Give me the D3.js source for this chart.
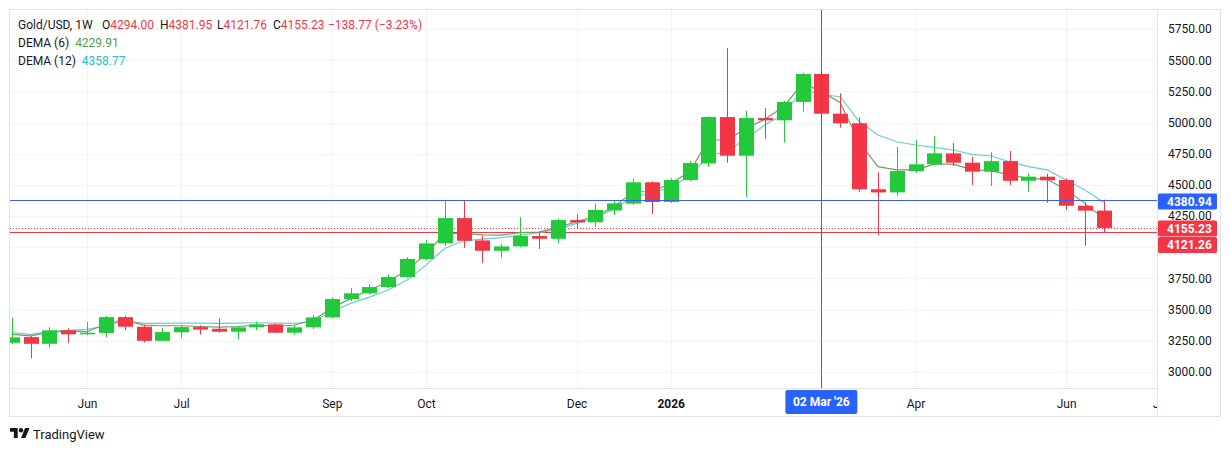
<!DOCTYPE html>
<html>
<head>
<meta charset="utf-8">
<script src="https://cdn.jsdelivr.net/npm/d3@7"></script>
<style>
  body { margin: 0; background: #fff; }
  svg text { font-family: Roboto, "Liberation Sans", sans-serif; }
</style>
</head>
<body>
<svg id="chart" width="1231" height="452"></svg>
<script>
// ── Data (weekly Gold/USD candles) ───────────────────────────
const weeks = [
  "2025-05-05","2025-05-12","2025-05-19","2025-05-26","2025-06-02","2025-06-09","2025-06-16","2025-06-23",
  "2025-06-30","2025-07-07","2025-07-14","2025-07-21","2025-07-28","2025-08-04","2025-08-11","2025-08-18",
  "2025-08-25","2025-09-01","2025-09-08","2025-09-15","2025-09-22","2025-09-29","2025-10-06","2025-10-13",
  "2025-10-20","2025-10-27","2025-11-03","2025-11-10","2025-11-17","2025-11-24","2025-12-01","2025-12-08",
  "2025-12-15","2025-12-22","2025-12-29","2026-01-05","2026-01-12","2026-01-19","2026-01-26","2026-02-02",
  "2026-02-09","2026-02-16","2026-02-23","2026-03-02","2026-03-09","2026-03-16","2026-03-23","2026-03-30",
  "2026-04-06","2026-04-13","2026-04-20","2026-04-27","2026-05-04","2026-05-11","2026-05-18","2026-05-25",
  "2026-06-01","2026-06-08","2026-06-15"
];
const open = [
  3234,3280,3226,3334,3302,3313,3440,3363,3250,3318,3360,3347,3323,3358,3382,3315,
  3358,3438,3585,3631,3681,3761,3906,4031,4234,4055,3972,4007,4090,4068,4218,4200,
  4295,4350,4521,4363,4539,4672,5044,4734,5036,5018,5165,5389,5071,4994,4465,4440,
  4611,4665,4753,4678,4606,4691,4533,4566,4539,4333,4294
];
const high = [
  3435,3290,3360,3350,3400,3450,3452,3380,3355,3376,3375,3430,3368,3403,3388,3376,
  3455,3600,3673,3705,3785,3920,4058,4375,4380,4090,4026,4240,4125,4228,4265,4352,
  4379,4547,4530,4553,4691,5050,5598,5095,5117,5175,5400,5408,5234,5042,4601,4804,
  4860,4892,4836,4726,4761,4772,4593,4590,4553,4360,4381.95
];
const low = [
  3225,3110,3195,3234,3295,3280,3335,3237,3245,3275,3300,3315,3262,3336,3312,3300,
  3345,3430,3570,3620,3672,3755,3895,4010,3995,3876,3916,4000,3986,4030,4150,4165,
  4258,4340,4267,4355,4530,4645,4678,4400,4870,4841,5087,5005,4959,4445,4098,4413,
  4598,4655,4650,4500,4491,4500,4445,4357,4299,4012,4121.76
];
const close = [
  3278,3226,3334,3302,3315,3440,3363,3250,3320,3360,3340,3323,3358,3382,3315,3358,
  3438,3585,3631,3681,3761,3906,4031,4234,4052,3972,4007,4090,4068,4218,4200,4299,
  4352,4521,4363,4539,4675,5044,4734,5036,5018,5165,5389,5071,4994,4465,4440,4611,
  4665,4753,4678,4606,4691,4533,4566,4537,4333,4294,4155.23
];
const dema6 = [
  3302,3290,3318,3330,3323,3385,3417,3376,3371,3371,3365,3360,3365,3376,3368,3375,
  3417,3510,3590,3657,3724,3817,3946,4112,4112,4100,4098,4117,4122,4160,4205,4250,
  4325,4445,4445,4512,4605,4860,4860,4953,5026,5127,5315,5250,5159,4846,4646,4620,
  4620,4667,4667,4620,4614,4580,4553,4545,4459,4352,4229.91
];
const dema12 = [
  3315,3302,3323,3334,3342,3371,3410,3390,3390,3393,3392,3390,3392,3395,3392,3390,
  3405,3485,3550,3600,3657,3737,3857,3992,4052,4065,4078,4098,4117,4144,4192,4232,
  4312,4405,4432,4485,4566,4740,4766,4873,4980,5068,5261,5225,5207,5010,4900,4846,
  4820,4801,4780,4745,4732,4686,4646,4620,4539,4459,4358.77
];

// axis ticks
const priceTicks = [3000,3250,3500,3750,4250,4500,4750,5000,5250,5500,5750]; // 4000 hidden behind tags
const gridPrices = [3000,3250,3500,3750,4000,4250,4500,4750,5000,5250,5500,5750];
const timeTickDates  = ["2025-06-02","2025-07-07","2025-09-01","2025-10-06","2025-12-01","2026-01-05","2026-04-06","2026-06-01","2026-07-06"];
const timeTickLabels = ["Jun","Jul","Sep","Oct","Dec","2026","Apr","Jun","Jul"];
const gridDates = ["2025-06-02","2025-07-07","2025-09-01","2025-10-06","2025-12-01","2026-01-05","2026-03-02","2026-04-06","2026-06-01"];

// legend values
const ohlc = [["O","4294.00"],["H","4381.95"],["L","4121.76"],["C","4155.23"]];
const change = "\u2212138.77 (\u22123.23%)";
const demaLegend = [["DEMA (6)","4229.91"],["DEMA (12)","4358.77"]];

// price markers
const crossPrice = 4380.94;
const crossDate  = "2026-03-02";
const crossLabel = "02 Mar '26";
const lastPrice  = 4155.23;
const lowMarker  = 4121.26;

// ── Layout ──────────────────────────────────────────────────
const C = {
  text: "#131722", grid: "#f0f3fa", border: "#e0e3eb",
  up: "#22c93a", down: "#f23645", blue: "#2962ff", blueLine: "#3a62e0",
  d6: "#7d9a5e", d6txt: "#4f9f4f", d12: "#6ccbd6", d12txt: "#2fb9ca"
};
const frame = { left: 9.5, top: 9.5, right: 1220.5, bottom: 416.5 };
const plotRight = 1157, plotBottom = 388;

const parse = d3.utcParse("%Y-%m-%d");
const candles = weeks.map((w, i) => ({
  date: parse(w), o: open[i], h: high[i], l: low[i], c: close[i], d6: dema6[i], d12: dema12[i]
}));

const x = d3.scaleUtc()
  .domain([candles[0].date, candles[candles.length - 1].date])
  .range([11.7, 1103.8]);
const y = d3.scaleLinear().domain([3000, 5750]).range([372, 29]);
const step = x(candles[1].date) - x(candles[0].date);
const bodyW = Math.round(step * 0.8);

const svg = d3.select("#chart");
const defs = svg.append("defs");
defs.append("clipPath").attr("id", "plotClip")
  .append("rect").attr("x", 10).attr("y", 10).attr("width", plotRight - 10).attr("height", plotBottom - 10);
// time axis clip, in the axis group's own coordinates
defs.append("clipPath").attr("id", "timeClip")
  .append("rect").attr("x", 10).attr("y", 0).attr("width", plotRight - 10).attr("height", 28);

// ── Grid ────────────────────────────────────────────────────
const grid = svg.append("g").attr("clip-path", "url(#plotClip)");
grid.selectAll(".hgrid").data(gridPrices).join("line")
  .attr("x1", 10).attr("x2", plotRight)
  .attr("y1", d => Math.round(y(d)) + 0.5).attr("y2", d => Math.round(y(d)) + 0.5)
  .attr("stroke", C.grid);
grid.selectAll(".vgrid").data(gridDates.map(parse)).join("line")
  .attr("x1", d => Math.round(x(d)) + 0.5).attr("x2", d => Math.round(x(d)) + 0.5)
  .attr("y1", 10).attr("y2", plotBottom)
  .attr("stroke", C.grid);

// ── Price lines ─────────────────────────────────────────────
const marks = svg.append("g").attr("clip-path", "url(#plotClip)");
marks.append("line")
  .attr("x1", 10).attr("x2", plotRight)
  .attr("y1", Math.round(y(lowMarker)) + 0.5).attr("y2", Math.round(y(lowMarker)) + 0.5)
  .attr("stroke", C.down);
marks.append("line")
  .attr("x1", 10).attr("x2", plotRight)
  .attr("y1", Math.round(y(lastPrice)) + 0.5).attr("y2", Math.round(y(lastPrice)) + 0.5)
  .attr("stroke", C.down).attr("stroke-dasharray", "1,2");

// ── DEMA lines ──────────────────────────────────────────────
const lineGen = key => d3.line().x(d => x(d.date)).y(d => y(d[key]));
marks.append("path").datum(candles).attr("d", lineGen("d12"))
  .attr("fill", "none").attr("stroke", C.d12).attr("stroke-width", 1.2);
marks.append("path").datum(candles).attr("d", lineGen("d6"))
  .attr("fill", "none").attr("stroke", C.d6).attr("stroke-width", 1.2);

// ── Candles ─────────────────────────────────────────────────
const cg = marks.selectAll(".candle").data(candles).join("g")
  .attr("fill", d => d.c >= d.o ? C.up : C.down)
  .attr("stroke", d => d.c >= d.o ? C.up : C.down);
cg.append("line")
  .attr("x1", d => Math.round(x(d.date)) + 0.5).attr("x2", d => Math.round(x(d.date)) + 0.5)
  .attr("y1", d => y(d.h)).attr("y2", d => y(d.l));
cg.append("rect")
  .attr("stroke", "none")
  .attr("x", d => Math.round(x(d.date)) - (bodyW - 1) / 2)
  .attr("width", bodyW)
  .attr("y", d => y(Math.max(d.o, d.c)))
  .attr("height", d => Math.max(1.5, Math.abs(y(d.o) - y(d.c))));

// crosshair
marks.append("line")
  .attr("x1", 10).attr("x2", plotRight)
  .attr("y1", Math.round(y(crossPrice)) + 0.5).attr("y2", Math.round(y(crossPrice)) + 0.5)
  .attr("stroke", C.blueLine);
marks.append("line")
  .attr("x1", Math.round(x(parse(crossDate))) + 0.5).attr("x2", Math.round(x(parse(crossDate))) + 0.5)
  .attr("y1", 10).attr("y2", plotBottom)
  .attr("stroke", C.blueLine);

// ── Frame ───────────────────────────────────────────────────
svg.append("rect")
  .attr("x", frame.left).attr("y", frame.top)
  .attr("width", frame.right - frame.left).attr("height", frame.bottom - frame.top)
  .attr("fill", "none").attr("stroke", C.border);
svg.append("line").attr("x1", plotRight + 0.5).attr("x2", plotRight + 0.5)
  .attr("y1", frame.top).attr("y2", frame.bottom).attr("stroke", C.border);
svg.append("line").attr("x1", frame.left).attr("x2", plotRight)
  .attr("y1", plotBottom + 0.5).attr("y2", plotBottom + 0.5).attr("stroke", C.border);

// ── Price axis ──────────────────────────────────────────────
const yAxis = svg.append("g")
  .attr("transform", `translate(${plotRight + 1},0)`)
  .call(d3.axisRight(y).tickValues(priceTicks).tickFormat(d3.format(".2f")).tickSize(0).tickPadding(10));
yAxis.select(".domain").remove();
yAxis.selectAll("text").attr("fill", C.text).style("font-size", "12px");

// price tags
const priceTag = (val, cy, fill) => {
  const g = svg.append("g");
  g.append("rect").attr("x", plotRight + 1).attr("y", cy - 8).attr("width", 59).attr("height", 16)
    .attr("rx", 1.5).attr("fill", fill);
  g.append("text").attr("x", plotRight + 10).attr("y", cy).attr("dy", "0.35em")
    .attr("fill", "#fff").style("font-size", "12px").style("font-weight", "bold")
    .text(d3.format(".2f")(val));
};
priceTag(crossPrice, 201.5, C.blue);
priceTag(lastPrice, 228.5, C.down);
priceTag(lowMarker, 245, C.down);

// ── Time axis ───────────────────────────────────────────────
const xAxis = svg.append("g")
  .attr("transform", `translate(0,${plotBottom})`)
  .attr("clip-path", "url(#timeClip)")
  .call(d3.axisBottom(x).tickValues(timeTickDates.map(parse))
    .tickFormat((d, i) => timeTickLabels[i]).tickSize(0).tickPadding(11));
xAxis.select(".domain").remove();
xAxis.selectAll("text").attr("fill", C.text).style("font-size", "12px")
  .style("font-weight", (d, i) => timeTickLabels[i] === "2026" ? "bold" : "normal");

// crosshair date label
const cx = x(parse(crossDate));
svg.append("rect").attr("x", cx - 36).attr("y", 390).attr("width", 72).attr("height", 24)
  .attr("rx", 2).attr("fill", C.blue);
svg.append("text").attr("x", cx).attr("y", 402).attr("dy", "0.35em").attr("text-anchor", "middle")
  .attr("fill", "#fff").style("font-size", "12px").style("font-weight", "bold").text(crossLabel);

// ── Legend ──────────────────────────────────────────────────
const legend = svg.append("g").style("font-size", "12px");
const row1 = legend.append("text").attr("x", 18).attr("y", 28.5).attr("fill", C.text);
row1.append("tspan").text("Gold/USD, 1W");
const ohlcX = [102, 160, 217, 273];
ohlc.forEach(([k, v], i) => {
  row1.append("tspan").attr("x", ohlcX[i]).text(k);
  row1.append("tspan").attr("fill", C.down).text(v);
});
row1.append("tspan").attr("x", 328).attr("fill", C.down).text(change);

demaLegend.forEach(([name, val], i) => {
  const t = legend.append("text").attr("x", 18).attr("y", 46.5 + i * 18).attr("fill", C.text);
  t.append("tspan").text(name);
  t.append("tspan").attr("dx", 6).attr("fill", i === 0 ? C.d6txt : C.d12txt).text(val);
});

// ── TradingView mark ────────────────────────────────────────
const logo = svg.append("g").attr("transform", "translate(10,425.8) scale(0.55)").attr("fill", C.text);
logo.append("path").attr("d", "M14 22H7V11H0V4h14v18zM28 22h-8l7.5-18h8L28 22z");
logo.append("circle").attr("cx", 20).attr("cy", 8).attr("r", 4);
svg.append("text").attr("x", 33).attr("y", 439).attr("fill", C.text)
  .style("font-size", "13px").text("TradingView");
</script>
</body>
</html>
